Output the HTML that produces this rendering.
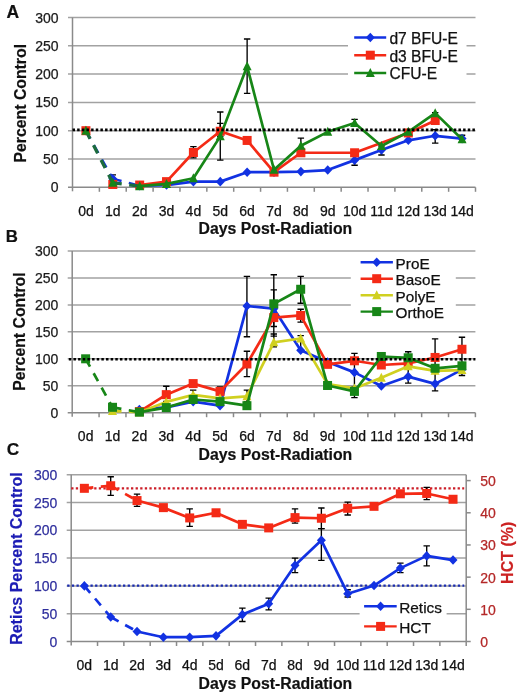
<!DOCTYPE html>
<html><head><meta charset="utf-8"><style>
html,body{margin:0;padding:0;background:#fff;}
svg{display:block;font-family:"Liberation Sans", sans-serif;will-change:transform;}
</style></head><body>
<svg width="520" height="695" viewBox="0 0 520 695">
<rect width="520" height="695" fill="#fff"/>
<text x="6.5" y="17.5" font-size="17.5" text-anchor="start" font-weight="bold" fill="#111" stroke="#111" stroke-width="0.2" >A</text>
<line x1="68" y1="159" x2="475.5" y2="159" stroke="#a2a2a2" stroke-width="1.5"/><line x1="68" y1="130.7" x2="475.5" y2="130.7" stroke="#a2a2a2" stroke-width="1.5"/><line x1="68" y1="102.4" x2="475.5" y2="102.4" stroke="#a2a2a2" stroke-width="1.5"/><line x1="68" y1="74.1" x2="475.5" y2="74.1" stroke="#a2a2a2" stroke-width="1.5"/><line x1="68" y1="45.8" x2="475.5" y2="45.8" stroke="#a2a2a2" stroke-width="1.5"/><line x1="68" y1="17.5" x2="475.5" y2="17.5" stroke="#a2a2a2" stroke-width="1.5"/><line x1="72.5" y1="17.5" x2="72.5" y2="191.3" stroke="#8a8a8a" stroke-width="1.5"/><line x1="68" y1="187.3" x2="475.5" y2="187.3" stroke="#8a8a8a" stroke-width="1.5"/><line x1="99.37" y1="187.3" x2="99.37" y2="191.8" stroke="#8a8a8a" stroke-width="1.5"/><line x1="126.23" y1="187.3" x2="126.23" y2="191.8" stroke="#8a8a8a" stroke-width="1.5"/><line x1="153.1" y1="187.3" x2="153.1" y2="191.8" stroke="#8a8a8a" stroke-width="1.5"/><line x1="179.97" y1="187.3" x2="179.97" y2="191.8" stroke="#8a8a8a" stroke-width="1.5"/><line x1="206.83" y1="187.3" x2="206.83" y2="191.8" stroke="#8a8a8a" stroke-width="1.5"/><line x1="233.7" y1="187.3" x2="233.7" y2="191.8" stroke="#8a8a8a" stroke-width="1.5"/><line x1="260.57" y1="187.3" x2="260.57" y2="191.8" stroke="#8a8a8a" stroke-width="1.5"/><line x1="287.43" y1="187.3" x2="287.43" y2="191.8" stroke="#8a8a8a" stroke-width="1.5"/><line x1="314.3" y1="187.3" x2="314.3" y2="191.8" stroke="#8a8a8a" stroke-width="1.5"/><line x1="341.17" y1="187.3" x2="341.17" y2="191.8" stroke="#8a8a8a" stroke-width="1.5"/><line x1="368.03" y1="187.3" x2="368.03" y2="191.8" stroke="#8a8a8a" stroke-width="1.5"/><line x1="394.9" y1="187.3" x2="394.9" y2="191.8" stroke="#8a8a8a" stroke-width="1.5"/><line x1="421.77" y1="187.3" x2="421.77" y2="191.8" stroke="#8a8a8a" stroke-width="1.5"/><line x1="448.63" y1="187.3" x2="448.63" y2="191.8" stroke="#8a8a8a" stroke-width="1.5"/><line x1="475.5" y1="187.3" x2="475.5" y2="191.8" stroke="#8a8a8a" stroke-width="1.5"/><text x="58.6" y="192.3" font-size="14" text-anchor="end" font-weight="normal" fill="#1a1a1a" stroke="#1a1a1a" stroke-width="0.25" >0</text><text x="58.6" y="164" font-size="14" text-anchor="end" font-weight="normal" fill="#1a1a1a" stroke="#1a1a1a" stroke-width="0.25" >50</text><text x="58.6" y="135.7" font-size="14" text-anchor="end" font-weight="normal" fill="#1a1a1a" stroke="#1a1a1a" stroke-width="0.25" >100</text><text x="58.6" y="107.4" font-size="14" text-anchor="end" font-weight="normal" fill="#1a1a1a" stroke="#1a1a1a" stroke-width="0.25" >150</text><text x="58.6" y="79.1" font-size="14" text-anchor="end" font-weight="normal" fill="#1a1a1a" stroke="#1a1a1a" stroke-width="0.25" >200</text><text x="58.6" y="50.8" font-size="14" text-anchor="end" font-weight="normal" fill="#1a1a1a" stroke="#1a1a1a" stroke-width="0.25" >250</text><text x="58.6" y="22.5" font-size="14" text-anchor="end" font-weight="normal" fill="#1a1a1a" stroke="#1a1a1a" stroke-width="0.25" >300</text><text x="85.93" y="215.6" font-size="14" text-anchor="middle" font-weight="normal" fill="#111" stroke="#111" stroke-width="0.25" >0d</text><text x="112.8" y="215.6" font-size="14" text-anchor="middle" font-weight="normal" fill="#111" stroke="#111" stroke-width="0.25" >1d</text><text x="139.67" y="215.6" font-size="14" text-anchor="middle" font-weight="normal" fill="#111" stroke="#111" stroke-width="0.25" >2d</text><text x="166.53" y="215.6" font-size="14" text-anchor="middle" font-weight="normal" fill="#111" stroke="#111" stroke-width="0.25" >3d</text><text x="193.4" y="215.6" font-size="14" text-anchor="middle" font-weight="normal" fill="#111" stroke="#111" stroke-width="0.25" >4d</text><text x="220.27" y="215.6" font-size="14" text-anchor="middle" font-weight="normal" fill="#111" stroke="#111" stroke-width="0.25" >5d</text><text x="247.13" y="215.6" font-size="14" text-anchor="middle" font-weight="normal" fill="#111" stroke="#111" stroke-width="0.25" >6d</text><text x="274" y="215.6" font-size="14" text-anchor="middle" font-weight="normal" fill="#111" stroke="#111" stroke-width="0.25" >7d</text><text x="300.87" y="215.6" font-size="14" text-anchor="middle" font-weight="normal" fill="#111" stroke="#111" stroke-width="0.25" >8d</text><text x="327.73" y="215.6" font-size="14" text-anchor="middle" font-weight="normal" fill="#111" stroke="#111" stroke-width="0.25" >9d</text><text x="354.6" y="215.6" font-size="14" text-anchor="middle" font-weight="normal" fill="#111" stroke="#111" stroke-width="0.25" >10d</text><text x="381.47" y="215.6" font-size="14" text-anchor="middle" font-weight="normal" fill="#111" stroke="#111" stroke-width="0.25" >11d</text><text x="408.33" y="215.6" font-size="14" text-anchor="middle" font-weight="normal" fill="#111" stroke="#111" stroke-width="0.25" >12d</text><text x="435.2" y="215.6" font-size="14" text-anchor="middle" font-weight="normal" fill="#111" stroke="#111" stroke-width="0.25" >13d</text><text x="462.07" y="215.6" font-size="14" text-anchor="middle" font-weight="normal" fill="#111" stroke="#111" stroke-width="0.25" >14d</text>
<text x="275.4" y="233.9" font-size="15.8" text-anchor="middle" font-weight="bold" fill="#111" stroke="#111" stroke-width="0.2" >Days Post-Radiation</text>
<text x="0" y="0" font-size="15.8" text-anchor="middle" font-weight="bold" fill="#111" stroke="#111" stroke-width="0.2" transform="translate(25.8,103.2) rotate(-90)">Percent Control</text>
<rect x="348" y="28" width="118.5" height="54" fill="#fff"/><line x1="354.2" y1="37.5" x2="386.2" y2="37.5" stroke="#1232e2" stroke-width="2.4"/><path d="M370.3 32.7L374.8 37.5L370.3 42.3L365.8 37.5Z" fill="#1232e2"/><text x="389.4" y="43.8" font-size="15.6" text-anchor="start" font-weight="normal" fill="#111" stroke="#111" stroke-width="0.25" >d7 BFU-E</text><line x1="354.2" y1="55.2" x2="386.2" y2="55.2" stroke="#f42a16" stroke-width="2.4"/><rect x="365.8" y="50.7" width="9" height="9" fill="#f42a16"/><text x="389.4" y="61.5" font-size="15.6" text-anchor="start" font-weight="normal" fill="#111" stroke="#111" stroke-width="0.25" >d3 BFU-E</text><line x1="354.2" y1="73" x2="386.2" y2="73" stroke="#178617" stroke-width="2.4"/><path d="M370.3 68L374.8 77L365.8 77Z" fill="#178617"/><text x="389.4" y="79.3" font-size="15.6" text-anchor="start" font-weight="normal" fill="#111" stroke="#111" stroke-width="0.25" >CFU-E</text>
<path d="M193.4 157.87V146.55M190.2 157.87H196.6M190.2 146.55H196.6" stroke="#000" stroke-width="1.35" fill="none"/>
<path d="M220.27 160.13V112.02M217.07 160.13H223.47M217.07 112.02H223.47" stroke="#000" stroke-width="1.35" fill="none"/>
<path d="M220.27 136.36V123.34M217.07 136.36H223.47M217.07 123.34H223.47" stroke="#000" stroke-width="1.35" fill="none"/>
<path d="M247.13 93.34V39.01M243.93 93.34H250.33M243.93 39.01H250.33" stroke="#000" stroke-width="1.35" fill="none"/>
<path d="M300.87 152.77V138.06M297.67 152.77H304.07M297.67 138.06H304.07" stroke="#000" stroke-width="1.35" fill="none"/>
<path d="M354.6 126.17V119.38M351.4 126.17H357.8M351.4 119.38H357.8" stroke="#000" stroke-width="1.35" fill="none"/>
<path d="M354.6 165.23V154.47M351.4 165.23H357.8M351.4 154.47H357.8" stroke="#000" stroke-width="1.35" fill="none"/>
<path d="M381.47 155.04V145.98M378.27 155.04H384.67M378.27 145.98H384.67" stroke="#000" stroke-width="1.35" fill="none"/>
<path d="M408.33 136.36V130.13M405.13 136.36H411.53M405.13 130.13H411.53" stroke="#000" stroke-width="1.35" fill="none"/>
<path d="M435.2 143.15V129.57M432 143.15H438.4M432 129.57H438.4" stroke="#000" stroke-width="1.35" fill="none"/>
<path d="M435.2 123.34V112.59M432 123.34H438.4M432 112.59H438.4" stroke="#000" stroke-width="1.35" fill="none"/>
<path d="M462.07 142.02V135.23M458.87 142.02H465.27M458.87 135.23H465.27" stroke="#000" stroke-width="1.35" fill="none"/>
<path d="M112.8 183.9V174.85M109.6 183.9H116M109.6 174.85H116" stroke="#000" stroke-width="1.35" fill="none"/>
<line x1="85.93" y1="130.7" x2="112.8" y2="178.81" stroke="#1232e2" stroke-width="2.4" stroke-dasharray="9,7.5"/><line x1="112.8" y1="178.81" x2="139.67" y2="185.6" stroke="#1232e2" stroke-width="2.4" stroke-dasharray="9,7.5"/><polyline points="139.67,185.6 166.53,185.04 193.4,181.64 220.27,181.64 247.13,172.19 274,172.19 300.87,171.62 327.73,170.04 354.6,160.13 381.47,149.94 408.33,140.32 435.2,135.79 462.07,138.62" fill="none" stroke="#1232e2" stroke-width="2.7" stroke-linejoin="round"/><path d="M85.93 125.9L90.43 130.7L85.93 135.5L81.43 130.7Z" fill="#1232e2"/><path d="M112.8 174.01L117.3 178.81L112.8 183.61L108.3 178.81Z" fill="#1232e2"/><path d="M139.67 180.8L144.17 185.6L139.67 190.4L135.17 185.6Z" fill="#1232e2"/><path d="M166.53 180.24L171.03 185.04L166.53 189.84L162.03 185.04Z" fill="#1232e2"/><path d="M193.4 176.84L197.9 181.64L193.4 186.44L188.9 181.64Z" fill="#1232e2"/><path d="M220.27 176.84L224.77 181.64L220.27 186.44L215.77 181.64Z" fill="#1232e2"/><path d="M247.13 167.39L251.63 172.19L247.13 176.99L242.63 172.19Z" fill="#1232e2"/><path d="M274 167.39L278.5 172.19L274 176.99L269.5 172.19Z" fill="#1232e2"/><path d="M300.87 166.82L305.37 171.62L300.87 176.42L296.37 171.62Z" fill="#1232e2"/><path d="M327.73 165.24L332.23 170.04L327.73 174.84L323.23 170.04Z" fill="#1232e2"/><path d="M354.6 155.33L359.1 160.13L354.6 164.93L350.1 160.13Z" fill="#1232e2"/><path d="M381.47 145.14L385.97 149.94L381.47 154.74L376.97 149.94Z" fill="#1232e2"/><path d="M408.33 135.52L412.83 140.32L408.33 145.12L403.83 140.32Z" fill="#1232e2"/><path d="M435.2 130.99L439.7 135.79L435.2 140.59L430.7 135.79Z" fill="#1232e2"/><path d="M462.07 133.82L466.57 138.62L462.07 143.42L457.57 138.62Z" fill="#1232e2"/>
<polyline points="139.67,185.04 166.53,181.64 193.4,152.49 220.27,131.27 247.13,140.44 274,172.19 300.87,152.77 354.6,152.77 408.33,132.96 435.2,120.51" fill="none" stroke="#f42a16" stroke-width="2.7" stroke-linejoin="round"/><rect x="81.43" y="126.2" width="9" height="9" fill="#f42a16"/><rect x="108.3" y="179.97" width="9" height="9" fill="#f42a16"/><rect x="135.17" y="180.54" width="9" height="9" fill="#f42a16"/><rect x="162.03" y="177.14" width="9" height="9" fill="#f42a16"/><rect x="188.9" y="147.99" width="9" height="9" fill="#f42a16"/><rect x="215.77" y="126.77" width="9" height="9" fill="#f42a16"/><rect x="242.63" y="135.94" width="9" height="9" fill="#f42a16"/><rect x="269.5" y="167.69" width="9" height="9" fill="#f42a16"/><rect x="296.37" y="148.27" width="9" height="9" fill="#f42a16"/><rect x="350.1" y="148.27" width="9" height="9" fill="#f42a16"/><rect x="403.83" y="128.46" width="9" height="9" fill="#f42a16"/><rect x="430.7" y="116.01" width="9" height="9" fill="#f42a16"/>
<line x1="85.93" y1="130.7" x2="112.8" y2="182.77" stroke="#1c6c3c" stroke-width="3.3" stroke-dasharray="9,7.5"/><line x1="112.8" y1="182.77" x2="139.67" y2="186.17" stroke="#1c6c3c" stroke-width="3.3" stroke-dasharray="9,7.5"/><polyline points="139.67,186.17 166.53,183.9 193.4,178.24 220.27,136.36 247.13,66.35 274,169.75 300.87,145.7 327.73,131.83 354.6,123.06 381.47,145.98 408.33,131.83 435.2,113.15 462.07,139.19" fill="none" stroke="#178617" stroke-width="2.7" stroke-linejoin="round"/><path d="M85.93 125.7L90.43 134.7L81.43 134.7Z" fill="#178617"/><path d="M112.8 177.77L117.3 186.77L108.3 186.77Z" fill="#178617"/><path d="M139.67 181.17L144.17 190.17L135.17 190.17Z" fill="#178617"/><path d="M166.53 178.9L171.03 187.9L162.03 187.9Z" fill="#178617"/><path d="M193.4 173.24L197.9 182.24L188.9 182.24Z" fill="#178617"/><path d="M220.27 131.36L224.77 140.36L215.77 140.36Z" fill="#178617"/><path d="M247.13 61.35L251.63 70.35L242.63 70.35Z" fill="#178617"/><path d="M274 164.75L278.5 173.75L269.5 173.75Z" fill="#178617"/><path d="M300.87 140.7L305.37 149.7L296.37 149.7Z" fill="#178617"/><path d="M327.73 126.83L332.23 135.83L323.23 135.83Z" fill="#178617"/><path d="M354.6 118.06L359.1 127.06L350.1 127.06Z" fill="#178617"/><path d="M381.47 140.98L385.97 149.98L376.97 149.98Z" fill="#178617"/><path d="M408.33 126.83L412.83 135.83L403.83 135.83Z" fill="#178617"/><path d="M435.2 108.15L439.7 117.15L430.7 117.15Z" fill="#178617"/><path d="M462.07 134.19L466.57 143.19L457.57 143.19Z" fill="#178617"/>
<line x1="72.5" y1="129.9" x2="475.5" y2="129.9" stroke="#000" stroke-width="2.6" stroke-dasharray="2.5,2.15"/>
<text x="5.7" y="242.4" font-size="16.8" text-anchor="start" font-weight="bold" fill="#111" stroke="#111" stroke-width="0.2" >B</text>
<line x1="67.7" y1="385.75" x2="475.4" y2="385.75" stroke="#a2a2a2" stroke-width="1.5"/><line x1="67.7" y1="358.8" x2="475.4" y2="358.8" stroke="#a2a2a2" stroke-width="1.5"/><line x1="67.7" y1="331.85" x2="475.4" y2="331.85" stroke="#a2a2a2" stroke-width="1.5"/><line x1="67.7" y1="304.9" x2="475.4" y2="304.9" stroke="#a2a2a2" stroke-width="1.5"/><line x1="67.7" y1="277.95" x2="475.4" y2="277.95" stroke="#a2a2a2" stroke-width="1.5"/><line x1="67.7" y1="251" x2="475.4" y2="251" stroke="#a2a2a2" stroke-width="1.5"/><line x1="72.2" y1="251" x2="72.2" y2="416.7" stroke="#8a8a8a" stroke-width="1.5"/><line x1="67.7" y1="412.7" x2="475.4" y2="412.7" stroke="#8a8a8a" stroke-width="1.5"/><line x1="99.08" y1="412.7" x2="99.08" y2="417.2" stroke="#8a8a8a" stroke-width="1.5"/><line x1="125.96" y1="412.7" x2="125.96" y2="417.2" stroke="#8a8a8a" stroke-width="1.5"/><line x1="152.84" y1="412.7" x2="152.84" y2="417.2" stroke="#8a8a8a" stroke-width="1.5"/><line x1="179.72" y1="412.7" x2="179.72" y2="417.2" stroke="#8a8a8a" stroke-width="1.5"/><line x1="206.6" y1="412.7" x2="206.6" y2="417.2" stroke="#8a8a8a" stroke-width="1.5"/><line x1="233.48" y1="412.7" x2="233.48" y2="417.2" stroke="#8a8a8a" stroke-width="1.5"/><line x1="260.36" y1="412.7" x2="260.36" y2="417.2" stroke="#8a8a8a" stroke-width="1.5"/><line x1="287.24" y1="412.7" x2="287.24" y2="417.2" stroke="#8a8a8a" stroke-width="1.5"/><line x1="314.12" y1="412.7" x2="314.12" y2="417.2" stroke="#8a8a8a" stroke-width="1.5"/><line x1="341" y1="412.7" x2="341" y2="417.2" stroke="#8a8a8a" stroke-width="1.5"/><line x1="367.88" y1="412.7" x2="367.88" y2="417.2" stroke="#8a8a8a" stroke-width="1.5"/><line x1="394.76" y1="412.7" x2="394.76" y2="417.2" stroke="#8a8a8a" stroke-width="1.5"/><line x1="421.64" y1="412.7" x2="421.64" y2="417.2" stroke="#8a8a8a" stroke-width="1.5"/><line x1="448.52" y1="412.7" x2="448.52" y2="417.2" stroke="#8a8a8a" stroke-width="1.5"/><line x1="475.4" y1="412.7" x2="475.4" y2="417.2" stroke="#8a8a8a" stroke-width="1.5"/><text x="58.4" y="417.7" font-size="14" text-anchor="end" font-weight="normal" fill="#1a1a1a" stroke="#1a1a1a" stroke-width="0.25" >0</text><text x="58.4" y="390.75" font-size="14" text-anchor="end" font-weight="normal" fill="#1a1a1a" stroke="#1a1a1a" stroke-width="0.25" >50</text><text x="58.4" y="363.8" font-size="14" text-anchor="end" font-weight="normal" fill="#1a1a1a" stroke="#1a1a1a" stroke-width="0.25" >100</text><text x="58.4" y="336.85" font-size="14" text-anchor="end" font-weight="normal" fill="#1a1a1a" stroke="#1a1a1a" stroke-width="0.25" >150</text><text x="58.4" y="309.9" font-size="14" text-anchor="end" font-weight="normal" fill="#1a1a1a" stroke="#1a1a1a" stroke-width="0.25" >200</text><text x="58.4" y="282.95" font-size="14" text-anchor="end" font-weight="normal" fill="#1a1a1a" stroke="#1a1a1a" stroke-width="0.25" >250</text><text x="58.4" y="256" font-size="14" text-anchor="end" font-weight="normal" fill="#1a1a1a" stroke="#1a1a1a" stroke-width="0.25" >300</text><text x="85.64" y="441" font-size="14" text-anchor="middle" font-weight="normal" fill="#111" stroke="#111" stroke-width="0.25" >0d</text><text x="112.52" y="441" font-size="14" text-anchor="middle" font-weight="normal" fill="#111" stroke="#111" stroke-width="0.25" >1d</text><text x="139.4" y="441" font-size="14" text-anchor="middle" font-weight="normal" fill="#111" stroke="#111" stroke-width="0.25" >2d</text><text x="166.28" y="441" font-size="14" text-anchor="middle" font-weight="normal" fill="#111" stroke="#111" stroke-width="0.25" >3d</text><text x="193.16" y="441" font-size="14" text-anchor="middle" font-weight="normal" fill="#111" stroke="#111" stroke-width="0.25" >4d</text><text x="220.04" y="441" font-size="14" text-anchor="middle" font-weight="normal" fill="#111" stroke="#111" stroke-width="0.25" >5d</text><text x="246.92" y="441" font-size="14" text-anchor="middle" font-weight="normal" fill="#111" stroke="#111" stroke-width="0.25" >6d</text><text x="273.8" y="441" font-size="14" text-anchor="middle" font-weight="normal" fill="#111" stroke="#111" stroke-width="0.25" >7d</text><text x="300.68" y="441" font-size="14" text-anchor="middle" font-weight="normal" fill="#111" stroke="#111" stroke-width="0.25" >8d</text><text x="327.56" y="441" font-size="14" text-anchor="middle" font-weight="normal" fill="#111" stroke="#111" stroke-width="0.25" >9d</text><text x="354.44" y="441" font-size="14" text-anchor="middle" font-weight="normal" fill="#111" stroke="#111" stroke-width="0.25" >10d</text><text x="381.32" y="441" font-size="14" text-anchor="middle" font-weight="normal" fill="#111" stroke="#111" stroke-width="0.25" >11d</text><text x="408.2" y="441" font-size="14" text-anchor="middle" font-weight="normal" fill="#111" stroke="#111" stroke-width="0.25" >12d</text><text x="435.08" y="441" font-size="14" text-anchor="middle" font-weight="normal" fill="#111" stroke="#111" stroke-width="0.25" >13d</text><text x="461.96" y="441" font-size="14" text-anchor="middle" font-weight="normal" fill="#111" stroke="#111" stroke-width="0.25" >14d</text>
<text x="275.4" y="459.6" font-size="15.8" text-anchor="middle" font-weight="bold" fill="#111" stroke="#111" stroke-width="0.2" >Days Post-Radiation</text>
<text x="0" y="0" font-size="15.8" text-anchor="middle" font-weight="bold" fill="#111" stroke="#111" stroke-width="0.2" transform="translate(25.4,331.6) rotate(-90)">Percent Control</text>
<rect x="350.8" y="254" width="105" height="66" fill="#fff"/><line x1="360.6" y1="262.3" x2="392.9" y2="262.3" stroke="#1232e2" stroke-width="2.4"/><path d="M376.7 257.5L381.2 262.3L376.7 267.1L372.2 262.3Z" fill="#1232e2"/><text x="395.6" y="268.9" font-size="15.3" text-anchor="start" font-weight="normal" fill="#111" stroke="#111" stroke-width="0.25" >ProE</text><line x1="360.6" y1="278.7" x2="392.9" y2="278.7" stroke="#f42a16" stroke-width="2.4"/><rect x="372.2" y="274.2" width="9" height="9" fill="#f42a16"/><text x="395.6" y="285.3" font-size="15.3" text-anchor="start" font-weight="normal" fill="#111" stroke="#111" stroke-width="0.25" >BasoE</text><line x1="360.6" y1="295.2" x2="392.9" y2="295.2" stroke="#d0d020" stroke-width="2.4"/><path d="M376.7 290.2L381.2 299.2L372.2 299.2Z" fill="#d0d020"/><text x="395.6" y="301.8" font-size="15.3" text-anchor="start" font-weight="normal" fill="#111" stroke="#111" stroke-width="0.25" >PolyE</text><line x1="360.6" y1="311.6" x2="392.9" y2="311.6" stroke="#178617" stroke-width="2.4"/><rect x="372.2" y="307.1" width="9" height="9" fill="#178617"/><text x="395.6" y="318.2" font-size="15.3" text-anchor="start" font-weight="normal" fill="#111" stroke="#111" stroke-width="0.25" >OrthoE</text>
<path d="M166.28 401.38V386.29M163.08 401.38H169.48M163.08 386.29H169.48" stroke="#000" stroke-width="1.35" fill="none"/>
<path d="M193.16 396.53V390.06M189.96 396.53H196.36M189.96 390.06H196.36" stroke="#000" stroke-width="1.35" fill="none"/>
<path d="M220.04 393.3V386.83M216.84 393.3H223.24M216.84 386.83H223.24" stroke="#000" stroke-width="1.35" fill="none"/>
<path d="M246.92 336.7V276.33M243.72 336.7H250.12M243.72 276.33H250.12" stroke="#000" stroke-width="1.35" fill="none"/>
<path d="M246.92 376.59V351.25M243.72 376.59H250.12M243.72 351.25H250.12" stroke="#000" stroke-width="1.35" fill="none"/>
<path d="M246.92 401.92V390.06M243.72 401.92H250.12M243.72 390.06H250.12" stroke="#000" stroke-width="1.35" fill="none"/>
<path d="M273.8 336.16V274.72M270.6 336.16H277M270.6 274.72H277" stroke="#000" stroke-width="1.35" fill="none"/>
<path d="M273.8 326.46V289.81M270.6 326.46H277M270.6 289.81H277" stroke="#000" stroke-width="1.35" fill="none"/>
<path d="M273.8 346.94V334.01M270.6 346.94H277M270.6 334.01H277" stroke="#000" stroke-width="1.35" fill="none"/>
<path d="M300.68 303.28V276.33M297.48 303.28H303.88M297.48 276.33H303.88" stroke="#000" stroke-width="1.35" fill="none"/>
<path d="M300.68 350.18V335.62M297.48 350.18H303.88M297.48 335.62H303.88" stroke="#000" stroke-width="1.35" fill="none"/>
<path d="M300.68 322.15V309.21M297.48 322.15H303.88M297.48 309.21H303.88" stroke="#000" stroke-width="1.35" fill="none"/>
<path d="M354.44 393.83V353.41M351.24 393.83H357.64M351.24 353.41H357.64" stroke="#000" stroke-width="1.35" fill="none"/>
<path d="M354.44 397.61V386.83M351.24 397.61H357.64M351.24 386.83H357.64" stroke="#000" stroke-width="1.35" fill="none"/>
<path d="M381.32 360.96V353.41M378.12 360.96H384.52M378.12 353.41H384.52" stroke="#000" stroke-width="1.35" fill="none"/>
<path d="M408.2 383.06V351.79M405 383.06H411.4M405 351.79H411.4" stroke="#000" stroke-width="1.35" fill="none"/>
<path d="M435.08 390.87V338.86M431.88 390.87H438.28M431.88 338.86H438.28" stroke="#000" stroke-width="1.35" fill="none"/>
<path d="M461.96 375.51V337.24M458.76 375.51H465.16M458.76 337.24H465.16" stroke="#000" stroke-width="1.35" fill="none"/>
<polyline points="139.4,409.47 166.28,407.31 193.16,401.6 220.04,405.69 246.92,306.03 273.8,308.67 300.68,350.18 327.56,362.03 354.44,372.38 381.32,386.07 408.2,376.59 435.08,383.86 461.96,369.58" fill="none" stroke="#1232e2" stroke-width="2.7" stroke-linejoin="round"/><path d="M139.4 404.67L143.9 409.47L139.4 414.27L134.9 409.47Z" fill="#1232e2"/><path d="M166.28 402.51L170.78 407.31L166.28 412.11L161.78 407.31Z" fill="#1232e2"/><path d="M193.16 396.8L197.66 401.6L193.16 406.4L188.66 401.6Z" fill="#1232e2"/><path d="M220.04 400.89L224.54 405.69L220.04 410.49L215.54 405.69Z" fill="#1232e2"/><path d="M246.92 301.23L251.42 306.03L246.92 310.83L242.42 306.03Z" fill="#1232e2"/><path d="M273.8 303.87L278.3 308.67L273.8 313.47L269.3 308.67Z" fill="#1232e2"/><path d="M300.68 345.38L305.18 350.18L300.68 354.98L296.18 350.18Z" fill="#1232e2"/><path d="M327.56 357.23L332.06 362.03L327.56 366.83L323.06 362.03Z" fill="#1232e2"/><path d="M354.44 367.58L358.94 372.38L354.44 377.18L349.94 372.38Z" fill="#1232e2"/><path d="M381.32 381.27L385.82 386.07L381.32 390.87L376.82 386.07Z" fill="#1232e2"/><path d="M408.2 371.79L412.7 376.59L408.2 381.39L403.7 376.59Z" fill="#1232e2"/><path d="M435.08 379.06L439.58 383.86L435.08 388.66L430.58 383.86Z" fill="#1232e2"/><path d="M461.96 364.78L466.46 369.58L461.96 374.38L457.46 369.58Z" fill="#1232e2"/>
<polyline points="139.4,411.62 166.28,394.64 193.16,383.59 220.04,391.41 246.92,363.97 273.8,317.57 300.68,315.46 327.56,364.35 354.44,360.79 381.32,365 408.2,363.38 435.08,357.45 461.96,349.26" fill="none" stroke="#f42a16" stroke-width="2.7" stroke-linejoin="round"/><rect x="134.9" y="407.12" width="9" height="9" fill="#f42a16"/><rect x="161.78" y="390.14" width="9" height="9" fill="#f42a16"/><rect x="188.66" y="379.09" width="9" height="9" fill="#f42a16"/><rect x="215.54" y="386.91" width="9" height="9" fill="#f42a16"/><rect x="242.42" y="359.47" width="9" height="9" fill="#f42a16"/><rect x="269.3" y="313.07" width="9" height="9" fill="#f42a16"/><rect x="296.18" y="310.96" width="9" height="9" fill="#f42a16"/><rect x="323.06" y="359.85" width="9" height="9" fill="#f42a16"/><rect x="349.94" y="356.29" width="9" height="9" fill="#f42a16"/><rect x="376.82" y="360.5" width="9" height="9" fill="#f42a16"/><rect x="403.7" y="358.88" width="9" height="9" fill="#f42a16"/><rect x="430.58" y="352.95" width="9" height="9" fill="#f42a16"/><rect x="457.46" y="344.76" width="9" height="9" fill="#f42a16"/>
<line x1="112.52" y1="411.08" x2="139.4" y2="412.16" stroke="#d0d020" stroke-width="2.7" stroke-dasharray="9,7.5"/><polyline points="139.4,412.16 166.28,401.92 193.16,394.91 220.04,398.42 246.92,396.31 273.8,342.36 300.68,338.53 327.56,384.13 354.44,388.44 381.32,377.66 408.2,366.35 435.08,370.87 461.96,370.12" fill="none" stroke="#d0d020" stroke-width="2.7" stroke-linejoin="round"/><path d="M112.52 406.08L117.02 415.08L108.02 415.08Z" fill="#d0d020"/><path d="M139.4 407.16L143.9 416.16L134.9 416.16Z" fill="#d0d020"/><path d="M166.28 396.92L170.78 405.92L161.78 405.92Z" fill="#d0d020"/><path d="M193.16 389.91L197.66 398.91L188.66 398.91Z" fill="#d0d020"/><path d="M220.04 393.42L224.54 402.42L215.54 402.42Z" fill="#d0d020"/><path d="M246.92 391.31L251.42 400.31L242.42 400.31Z" fill="#d0d020"/><path d="M273.8 337.36L278.3 346.36L269.3 346.36Z" fill="#d0d020"/><path d="M300.68 333.53L305.18 342.53L296.18 342.53Z" fill="#d0d020"/><path d="M327.56 379.13L332.06 388.13L323.06 388.13Z" fill="#d0d020"/><path d="M354.44 383.44L358.94 392.44L349.94 392.44Z" fill="#d0d020"/><path d="M381.32 372.66L385.82 381.66L376.82 381.66Z" fill="#d0d020"/><path d="M408.2 361.35L412.7 370.35L403.7 370.35Z" fill="#d0d020"/><path d="M435.08 365.87L439.58 374.87L430.58 374.87Z" fill="#d0d020"/><path d="M461.96 365.12L466.46 374.12L457.46 374.12Z" fill="#d0d020"/>
<line x1="85.64" y1="358.8" x2="112.52" y2="407.31" stroke="#178617" stroke-width="2.7" stroke-dasharray="9,7.5"/><line x1="112.52" y1="407.31" x2="139.4" y2="412.16" stroke="#178617" stroke-width="2.7" stroke-dasharray="9,7.5"/><polyline points="139.4,412.16 166.28,407.58 193.16,399.49 220.04,401.6 246.92,405.69 273.8,303.82 300.68,289.27 327.56,385.48 354.44,391.41 381.32,356.48 408.2,357.78 435.08,368.29 461.96,365.81" fill="none" stroke="#178617" stroke-width="2.7" stroke-linejoin="round"/><rect x="81.14" y="354.3" width="9" height="9" fill="#178617"/><rect x="108.02" y="402.81" width="9" height="9" fill="#178617"/><rect x="134.9" y="407.66" width="9" height="9" fill="#178617"/><rect x="161.78" y="403.08" width="9" height="9" fill="#178617"/><rect x="188.66" y="394.99" width="9" height="9" fill="#178617"/><rect x="215.54" y="397.1" width="9" height="9" fill="#178617"/><rect x="242.42" y="401.19" width="9" height="9" fill="#178617"/><rect x="269.3" y="299.32" width="9" height="9" fill="#178617"/><rect x="296.18" y="284.77" width="9" height="9" fill="#178617"/><rect x="323.06" y="380.98" width="9" height="9" fill="#178617"/><rect x="349.94" y="386.91" width="9" height="9" fill="#178617"/><rect x="376.82" y="351.98" width="9" height="9" fill="#178617"/><rect x="403.7" y="353.28" width="9" height="9" fill="#178617"/><rect x="430.58" y="363.79" width="9" height="9" fill="#178617"/><rect x="457.46" y="361.31" width="9" height="9" fill="#178617"/>
<line x1="68.8" y1="359.3" x2="475.4" y2="359.3" stroke="#000" stroke-width="2.6" stroke-dasharray="2.5,2.15"/>
<text x="6.7" y="454.9" font-size="17.3" text-anchor="start" font-weight="bold" fill="#111" stroke="#111" stroke-width="0.2" >C</text>
<line x1="66.7" y1="613.7" x2="466.2" y2="613.7" stroke="#a2a2a2" stroke-width="1.5"/><line x1="66.7" y1="585.9" x2="466.2" y2="585.9" stroke="#a2a2a2" stroke-width="1.5"/><line x1="66.7" y1="558.1" x2="466.2" y2="558.1" stroke="#a2a2a2" stroke-width="1.5"/><line x1="66.7" y1="530.3" x2="466.2" y2="530.3" stroke="#a2a2a2" stroke-width="1.5"/><line x1="66.7" y1="502.5" x2="466.2" y2="502.5" stroke="#a2a2a2" stroke-width="1.5"/><line x1="66.7" y1="474.7" x2="466.2" y2="474.7" stroke="#a2a2a2" stroke-width="1.5"/><line x1="71.2" y1="474.7" x2="71.2" y2="645.5" stroke="#8a8a8a" stroke-width="1.5"/><line x1="66.7" y1="641.5" x2="466.2" y2="641.5" stroke="#8a8a8a" stroke-width="1.5"/><line x1="97.53" y1="641.5" x2="97.53" y2="646" stroke="#8a8a8a" stroke-width="1.5"/><line x1="123.87" y1="641.5" x2="123.87" y2="646" stroke="#8a8a8a" stroke-width="1.5"/><line x1="150.2" y1="641.5" x2="150.2" y2="646" stroke="#8a8a8a" stroke-width="1.5"/><line x1="176.53" y1="641.5" x2="176.53" y2="646" stroke="#8a8a8a" stroke-width="1.5"/><line x1="202.87" y1="641.5" x2="202.87" y2="646" stroke="#8a8a8a" stroke-width="1.5"/><line x1="229.2" y1="641.5" x2="229.2" y2="646" stroke="#8a8a8a" stroke-width="1.5"/><line x1="255.53" y1="641.5" x2="255.53" y2="646" stroke="#8a8a8a" stroke-width="1.5"/><line x1="281.87" y1="641.5" x2="281.87" y2="646" stroke="#8a8a8a" stroke-width="1.5"/><line x1="308.2" y1="641.5" x2="308.2" y2="646" stroke="#8a8a8a" stroke-width="1.5"/><line x1="334.53" y1="641.5" x2="334.53" y2="646" stroke="#8a8a8a" stroke-width="1.5"/><line x1="360.87" y1="641.5" x2="360.87" y2="646" stroke="#8a8a8a" stroke-width="1.5"/><line x1="387.2" y1="641.5" x2="387.2" y2="646" stroke="#8a8a8a" stroke-width="1.5"/><line x1="413.53" y1="641.5" x2="413.53" y2="646" stroke="#8a8a8a" stroke-width="1.5"/><line x1="439.87" y1="641.5" x2="439.87" y2="646" stroke="#8a8a8a" stroke-width="1.5"/><line x1="466.2" y1="641.5" x2="466.2" y2="646" stroke="#8a8a8a" stroke-width="1.5"/><text x="57.3" y="646.5" font-size="14" text-anchor="end" font-weight="normal" fill="#30309e" stroke="#30309e" stroke-width="0.25" >0</text><text x="57.3" y="618.7" font-size="14" text-anchor="end" font-weight="normal" fill="#30309e" stroke="#30309e" stroke-width="0.25" >50</text><text x="57.3" y="590.9" font-size="14" text-anchor="end" font-weight="normal" fill="#30309e" stroke="#30309e" stroke-width="0.25" >100</text><text x="57.3" y="563.1" font-size="14" text-anchor="end" font-weight="normal" fill="#30309e" stroke="#30309e" stroke-width="0.25" >150</text><text x="57.3" y="535.3" font-size="14" text-anchor="end" font-weight="normal" fill="#30309e" stroke="#30309e" stroke-width="0.25" >200</text><text x="57.3" y="507.5" font-size="14" text-anchor="end" font-weight="normal" fill="#30309e" stroke="#30309e" stroke-width="0.25" >250</text><text x="57.3" y="479.7" font-size="14" text-anchor="end" font-weight="normal" fill="#30309e" stroke="#30309e" stroke-width="0.25" >300</text><text x="84.37" y="669.8" font-size="14" text-anchor="middle" font-weight="normal" fill="#111" stroke="#111" stroke-width="0.25" >0d</text><text x="110.7" y="669.8" font-size="14" text-anchor="middle" font-weight="normal" fill="#111" stroke="#111" stroke-width="0.25" >1d</text><text x="137.03" y="669.8" font-size="14" text-anchor="middle" font-weight="normal" fill="#111" stroke="#111" stroke-width="0.25" >2d</text><text x="163.37" y="669.8" font-size="14" text-anchor="middle" font-weight="normal" fill="#111" stroke="#111" stroke-width="0.25" >3d</text><text x="189.7" y="669.8" font-size="14" text-anchor="middle" font-weight="normal" fill="#111" stroke="#111" stroke-width="0.25" >4d</text><text x="216.03" y="669.8" font-size="14" text-anchor="middle" font-weight="normal" fill="#111" stroke="#111" stroke-width="0.25" >5d</text><text x="242.37" y="669.8" font-size="14" text-anchor="middle" font-weight="normal" fill="#111" stroke="#111" stroke-width="0.25" >6d</text><text x="268.7" y="669.8" font-size="14" text-anchor="middle" font-weight="normal" fill="#111" stroke="#111" stroke-width="0.25" >7d</text><text x="295.03" y="669.8" font-size="14" text-anchor="middle" font-weight="normal" fill="#111" stroke="#111" stroke-width="0.25" >8d</text><text x="321.37" y="669.8" font-size="14" text-anchor="middle" font-weight="normal" fill="#111" stroke="#111" stroke-width="0.25" >9d</text><text x="347.7" y="669.8" font-size="14" text-anchor="middle" font-weight="normal" fill="#111" stroke="#111" stroke-width="0.25" >10d</text><text x="374.03" y="669.8" font-size="14" text-anchor="middle" font-weight="normal" fill="#111" stroke="#111" stroke-width="0.25" >11d</text><text x="400.37" y="669.8" font-size="14" text-anchor="middle" font-weight="normal" fill="#111" stroke="#111" stroke-width="0.25" >12d</text><text x="426.7" y="669.8" font-size="14" text-anchor="middle" font-weight="normal" fill="#111" stroke="#111" stroke-width="0.25" >13d</text><text x="453.03" y="669.8" font-size="14" text-anchor="middle" font-weight="normal" fill="#111" stroke="#111" stroke-width="0.25" >14d</text>
<line x1="466.2" y1="474.7" x2="466.2" y2="641.5" stroke="#8a8a8a" stroke-width="1.5"/>
<line x1="466.2" y1="641.5" x2="470.7" y2="641.5" stroke="#8a8a8a" stroke-width="1.5"/>
<text x="480.3" y="647" font-size="14" text-anchor="start" font-weight="normal" fill="#b42828" stroke="#b42828" stroke-width="0.25" >0</text>
<line x1="466.2" y1="609.32" x2="470.7" y2="609.32" stroke="#8a8a8a" stroke-width="1.5"/>
<text x="480.3" y="614.82" font-size="14" text-anchor="start" font-weight="normal" fill="#b42828" stroke="#b42828" stroke-width="0.25" >10</text>
<line x1="466.2" y1="577.14" x2="470.7" y2="577.14" stroke="#8a8a8a" stroke-width="1.5"/>
<text x="480.3" y="582.64" font-size="14" text-anchor="start" font-weight="normal" fill="#b42828" stroke="#b42828" stroke-width="0.25" >20</text>
<line x1="466.2" y1="544.96" x2="470.7" y2="544.96" stroke="#8a8a8a" stroke-width="1.5"/>
<text x="480.3" y="550.46" font-size="14" text-anchor="start" font-weight="normal" fill="#b42828" stroke="#b42828" stroke-width="0.25" >30</text>
<line x1="466.2" y1="512.78" x2="470.7" y2="512.78" stroke="#8a8a8a" stroke-width="1.5"/>
<text x="480.3" y="518.28" font-size="14" text-anchor="start" font-weight="normal" fill="#b42828" stroke="#b42828" stroke-width="0.25" >40</text>
<line x1="466.2" y1="480.6" x2="470.7" y2="480.6" stroke="#8a8a8a" stroke-width="1.5"/>
<text x="480.3" y="486.1" font-size="14" text-anchor="start" font-weight="normal" fill="#b42828" stroke="#b42828" stroke-width="0.25" >50</text>
<text x="275.4" y="689.3" font-size="15.8" text-anchor="middle" font-weight="bold" fill="#111" stroke="#111" stroke-width="0.2" >Days Post-Radiation</text>
<text x="0" y="0" font-size="16" text-anchor="middle" font-weight="bold" fill="#1c1cb4" stroke="#1c1cb4" stroke-width="0.2" transform="translate(21.5,558.6) rotate(-90)">Retics Percent Control</text>
<text x="0" y="0" font-size="16" text-anchor="middle" font-weight="bold" fill="#cc2222" stroke="#cc2222" stroke-width="0.2" transform="translate(513.0,552.8) rotate(-90)">HCT (%)</text>
<rect x="359.6" y="596" width="87" height="40" fill="#fff"/><line x1="364.1" y1="606.3" x2="396.7" y2="606.3" stroke="#1232e2" stroke-width="2.4"/><path d="M380.6 601.5L385.1 606.3L380.6 611.1L376.1 606.3Z" fill="#1232e2"/><text x="399.2" y="612.9" font-size="15.4" text-anchor="start" font-weight="normal" fill="#111" stroke="#111" stroke-width="0.25" >Retics</text><line x1="364.1" y1="626.4" x2="396.7" y2="626.4" stroke="#f42a16" stroke-width="2.4"/><rect x="376.1" y="621.9" width="9" height="9" fill="#f42a16"/><text x="399.2" y="633" font-size="15.4" text-anchor="start" font-weight="normal" fill="#111" stroke="#111" stroke-width="0.25" >HCT</text>
<line x1="67.2" y1="585.6" x2="464.2" y2="585.6" stroke="#1a2cb0" stroke-width="2.4" stroke-dasharray="2.3,2.35"/>
<line x1="71.2" y1="488.4" x2="464.2" y2="488.4" stroke="#cc1e28" stroke-width="2.4" stroke-dasharray="2.3,2.3"/>
<path d="M242.37 621.48V608.14M239.17 621.48H245.57M239.17 608.14H245.57" stroke="#000" stroke-width="1.35" fill="none"/>
<path d="M268.7 609.81V598.13M265.5 609.81H271.9M265.5 598.13H271.9" stroke="#000" stroke-width="1.35" fill="none"/>
<path d="M295.03 572.56V558.1M291.83 572.56H298.23M291.83 558.1H298.23" stroke="#000" stroke-width="1.35" fill="none"/>
<path d="M321.37 560.32V528.63M318.17 560.32H324.57M318.17 528.63H324.57" stroke="#000" stroke-width="1.35" fill="none"/>
<path d="M347.7 597.02V589.79M344.5 597.02H350.9M344.5 589.79H350.9" stroke="#000" stroke-width="1.35" fill="none"/>
<path d="M400.37 572.56V563.1M397.17 572.56H403.57M397.17 563.1H403.57" stroke="#000" stroke-width="1.35" fill="none"/>
<path d="M426.7 565.88V545.87M423.5 565.88H429.9M423.5 545.87H429.9" stroke="#000" stroke-width="1.35" fill="none"/>
<path d="M110.7 495.4V476.74M107.5 495.4H113.9M107.5 476.74H113.9" stroke="#000" stroke-width="1.35" fill="none"/>
<path d="M137.03 506.34V494.12M133.83 506.34H140.23M133.83 494.12H140.23" stroke="#000" stroke-width="1.35" fill="none"/>
<path d="M189.7 526.3V508.92M186.5 526.3H192.9M186.5 508.92H192.9" stroke="#000" stroke-width="1.35" fill="none"/>
<path d="M295.03 523.08V508.92M291.83 523.08H298.23M291.83 508.92H298.23" stroke="#000" stroke-width="1.35" fill="none"/>
<path d="M321.37 528.55V507.95M318.17 528.55H324.57M318.17 507.95H324.57" stroke="#000" stroke-width="1.35" fill="none"/>
<path d="M347.7 515.03V502.16M344.5 515.03H350.9M344.5 502.16H350.9" stroke="#000" stroke-width="1.35" fill="none"/>
<path d="M426.7 499.59V487.36M423.5 499.59H429.9M423.5 487.36H429.9" stroke="#000" stroke-width="1.35" fill="none"/>
<line x1="84.37" y1="585.9" x2="110.7" y2="617.04" stroke="#1232e2" stroke-width="2.7" stroke-dasharray="9,7.5"/><line x1="110.7" y1="617.04" x2="137.03" y2="631.49" stroke="#1232e2" stroke-width="2.7" stroke-dasharray="9,7.5"/><polyline points="137.03,631.49 163.37,637.22 189.7,637.22 216.03,635.83 242.37,614.59 268.7,603.69 295.03,565.33 321.37,540.31 347.7,593.68 374.03,585.57 400.37,568.11 426.7,555.88 453.03,560.05" fill="none" stroke="#1232e2" stroke-width="2.7" stroke-linejoin="round"/><path d="M84.37 581.1L88.87 585.9L84.37 590.7L79.87 585.9Z" fill="#1232e2"/><path d="M110.7 612.24L115.2 617.04L110.7 621.84L106.2 617.04Z" fill="#1232e2"/><path d="M137.03 626.69L141.53 631.49L137.03 636.29L132.53 631.49Z" fill="#1232e2"/><path d="M163.37 632.42L167.87 637.22L163.37 642.02L158.87 637.22Z" fill="#1232e2"/><path d="M189.7 632.42L194.2 637.22L189.7 642.02L185.2 637.22Z" fill="#1232e2"/><path d="M216.03 631.03L220.53 635.83L216.03 640.63L211.53 635.83Z" fill="#1232e2"/><path d="M242.37 609.79L246.87 614.59L242.37 619.39L237.87 614.59Z" fill="#1232e2"/><path d="M268.7 598.89L273.2 603.69L268.7 608.49L264.2 603.69Z" fill="#1232e2"/><path d="M295.03 560.53L299.53 565.33L295.03 570.13L290.53 565.33Z" fill="#1232e2"/><path d="M321.37 535.51L325.87 540.31L321.37 545.11L316.87 540.31Z" fill="#1232e2"/><path d="M347.7 588.88L352.2 593.68L347.7 598.48L343.2 593.68Z" fill="#1232e2"/><path d="M374.03 580.77L378.53 585.57L374.03 590.37L369.53 585.57Z" fill="#1232e2"/><path d="M400.37 563.31L404.87 568.11L400.37 572.91L395.87 568.11Z" fill="#1232e2"/><path d="M426.7 551.08L431.2 555.88L426.7 560.68L422.2 555.88Z" fill="#1232e2"/><path d="M453.03 555.25L457.53 560.05L453.03 564.85L448.53 560.05Z" fill="#1232e2"/>
<line x1="84.37" y1="488.32" x2="110.7" y2="485.75" stroke="#f42a16" stroke-width="2.7" stroke-dasharray="9,7.5"/><line x1="110.7" y1="485.75" x2="137.03" y2="500.55" stroke="#f42a16" stroke-width="2.7" stroke-dasharray="9,7.5"/><polyline points="137.03,500.55 163.37,507.63 189.7,517.93 216.03,512.78 242.37,524.36 268.7,527.9 295.03,517.61 321.37,518.25 347.7,508.27 374.03,506.34 400.37,493.79 426.7,493.47 453.03,499.26" fill="none" stroke="#f42a16" stroke-width="2.7" stroke-linejoin="round"/><rect x="79.87" y="483.82" width="9" height="9" fill="#f42a16"/><rect x="106.2" y="481.25" width="9" height="9" fill="#f42a16"/><rect x="132.53" y="496.05" width="9" height="9" fill="#f42a16"/><rect x="158.87" y="503.13" width="9" height="9" fill="#f42a16"/><rect x="185.2" y="513.43" width="9" height="9" fill="#f42a16"/><rect x="211.53" y="508.28" width="9" height="9" fill="#f42a16"/><rect x="237.87" y="519.86" width="9" height="9" fill="#f42a16"/><rect x="264.2" y="523.4" width="9" height="9" fill="#f42a16"/><rect x="290.53" y="513.11" width="9" height="9" fill="#f42a16"/><rect x="316.87" y="513.75" width="9" height="9" fill="#f42a16"/><rect x="343.2" y="503.77" width="9" height="9" fill="#f42a16"/><rect x="369.53" y="501.84" width="9" height="9" fill="#f42a16"/><rect x="395.87" y="489.29" width="9" height="9" fill="#f42a16"/><rect x="422.2" y="488.97" width="9" height="9" fill="#f42a16"/><rect x="448.53" y="494.76" width="9" height="9" fill="#f42a16"/>
</svg>
</body></html>
